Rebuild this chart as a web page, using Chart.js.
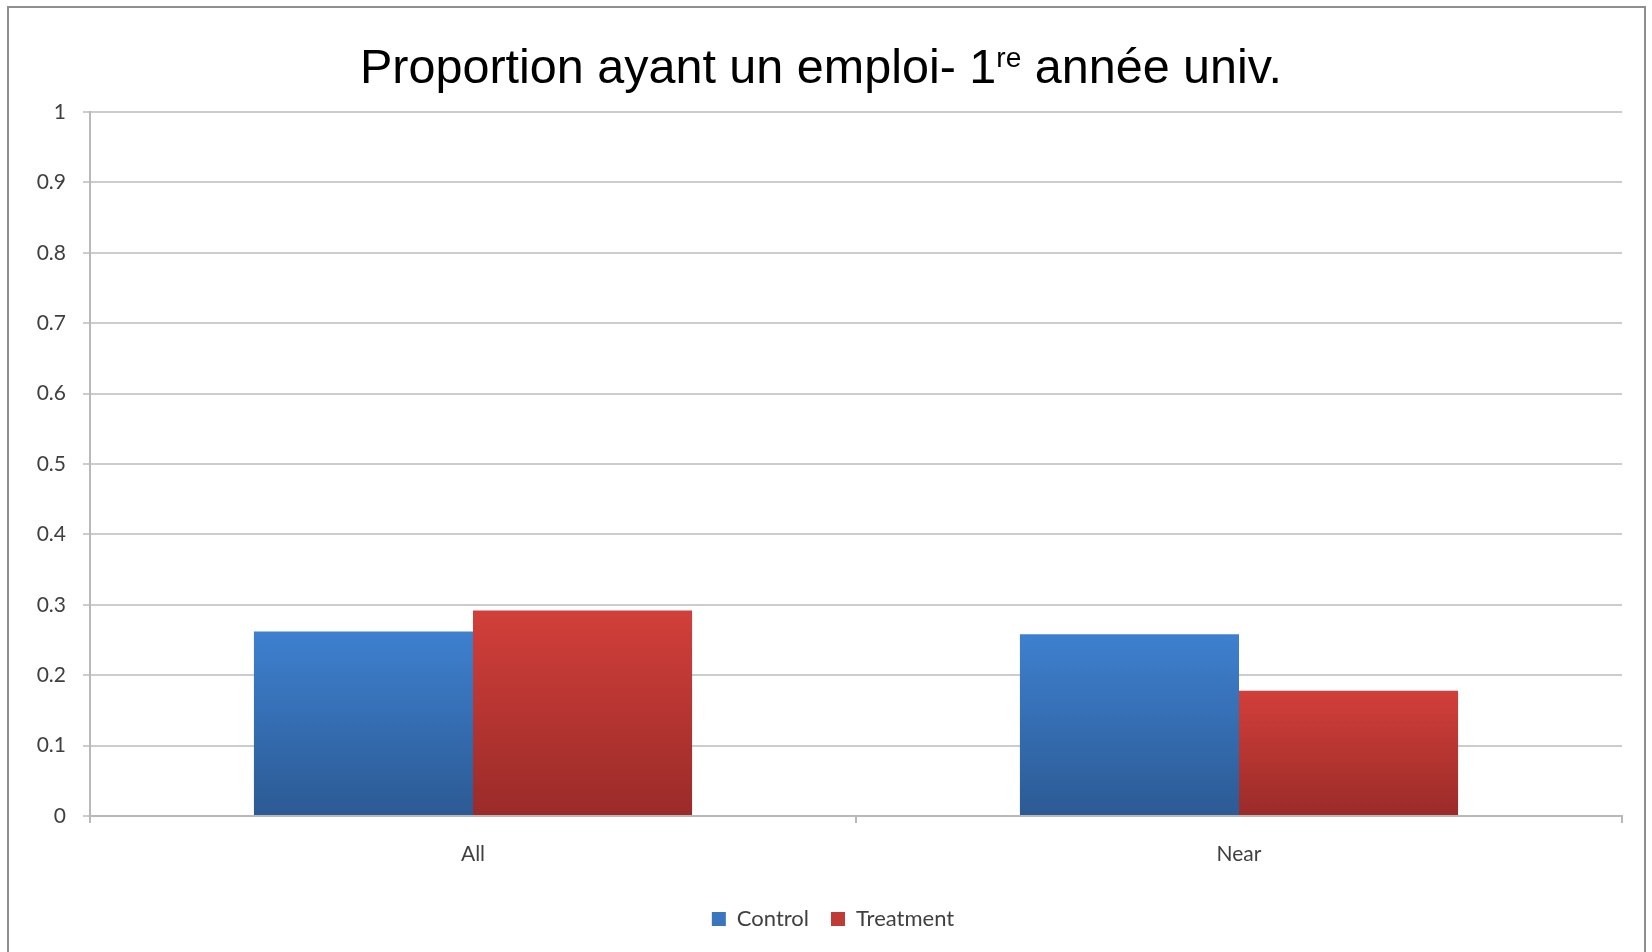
<!DOCTYPE html>
<html lang="fr">
<head>
<meta charset="utf-8">
<title>Proportion ayant un emploi</title>
<script src="https://cdn.jsdelivr.net/npm/chart.js@4.4.1/dist/chart.umd.min.js"></script>
<style>
    html, body { margin: 0; padding: 0; background: #fff; }
    .wrap { position: relative; width: 1652px; height: 952px; overflow: hidden; }
    .frame {
        position: absolute; left: 7px; top: 6px; width: 1639px; height: 1000px;
        border: 2px solid #8e8e8e; border-bottom: none; box-sizing: border-box;
    }
    .title {
        position: absolute; left: 360px; top: 38px; margin: 0;
        font-family: "Liberation Sans", Arial, sans-serif; font-weight: normal;
        font-size: 48.5px; line-height: 56px; color: #000; white-space: nowrap;
    }
    .title sup { font-size: 0.58em; vertical-align: 0; position: relative; top: -0.58em; }
    #chart { position: absolute; left: 0; top: 0; }
</style>
</head>
<body>
<div class="wrap">
    <div class="frame"></div>
    <canvas id="chart" width="1652" height="952"></canvas>
    <h1 class="title">Proportion ayant un emploi- 1<sup>re</sup> année univ.</h1>
</div>

<script>
// data
const categories = ['All', 'Near'];
const seriesNames = ['Control', 'Treatment'];
const controlValues = [0.262, 0.258];
const treatmentValues = [0.292, 0.178];
const yTickLabels = ['0', '0.1', '0.2', '0.3', '0.4', '0.5', '0.6', '0.7', '0.8', '0.9', '1'];

// colours (top -> bottom of each bar)
const controlGrad = ['#3e80cf', '#2c5a94'];
const treatmentGrad = ['#d23f3a', '#9a2b29'];
const legendColors = ['#3a75c0', '#c13b36'];

const gridColor = '#cccccc';
const axisColor = '#b9b9b9';
const labelColor = '#404040';
const tickFont = { family: 'Lato, "Open Sans", sans-serif', size: 21 };
const legendFont = { family: 'Lato, "Open Sans", sans-serif', size: 22 };

function barGradient(stops) {
    return function(ctx) {
        const chart = ctx.chart;
        if (!chart.chartArea || ctx.raw === undefined) return stops[0];
        const y = chart.scales.y;
        const top = y.getPixelForValue(ctx.raw);
        const bottom = y.getPixelForValue(0);
        const g = chart.ctx.createLinearGradient(0, top, 0, bottom);
        g.addColorStop(0, stops[0]);
        g.addColorStop(1, stops[1]);
        return g;
    };
}

// the legend in the original sits a little right of the plot centre
const legendNudge = {
    id: 'legendNudge',
    afterLayout: function(chart) {
        const lg = chart.legend;
        if (lg) {
            lg.left += 12;
            lg.right += 12;
            lg.top -= 3;
            lg.bottom -= 3;
        }
    }
};

new Chart(document.getElementById('chart'), {
    type: 'bar',
    data: {
        labels: categories,
        datasets: [
            { label: seriesNames[0], data: controlValues, backgroundColor: barGradient(controlGrad), borderWidth: 0 },
            { label: seriesNames[1], data: treatmentValues, backgroundColor: barGradient(treatmentGrad), borderWidth: 0 }
        ]
    },
    plugins: [legendNudge],
    options: {
        responsive: false,
        devicePixelRatio: 1,
        animation: false,
        datasets: { bar: { categoryPercentage: 0.572, barPercentage: 1 } },
        layout: { padding: { left: 20, right: 30, top: 112, bottom: 9 } },
        plugins: {
            title: { display: false },
            tooltip: { enabled: false },
            legend: {
                position: 'bottom',
                labels: {
                    boxWidth: 14,
                    boxHeight: 14,
                    padding: 22,
                    color: labelColor,
                    font: legendFont,
                    generateLabels: function(chart) {
                        return chart.data.datasets.map(function(ds, i) {
                            return {
                                text: ds.label,
                                fillStyle: legendColors[i],
                                strokeStyle: legendColors[i],
                                lineWidth: 0,
                                fontColor: labelColor,
                                datasetIndex: i,
                                hidden: false
                            };
                        });
                    }
                }
            }
        },
        scales: {
            x: {
                afterFit: function(scale) { scale.height = 73; },
                grid: {
                    offset: true,
                    drawOnChartArea: false,
                    drawTicks: true,
                    tickLength: 7,
                    color: axisColor,
                    lineWidth: 2
                },
                border: { display: true, color: axisColor, width: 2 },
                ticks: { color: labelColor, font: tickFont, padding: 19 }
            },
            y: {
                min: 0,
                max: 1,
                afterFit: function(scale) { scale.width = 70; },
                grid: { color: gridColor, lineWidth: 2, tickLength: 7 },
                border: { display: true, color: axisColor, width: 2 },
                ticks: {
                    stepSize: 0.1,
                    padding: 17,
                    color: labelColor,
                    font: tickFont,
                    callback: function(value, index) { return yTickLabels[index]; }
                }
            }
        }
    }
});
</script>
</body>
</html>
